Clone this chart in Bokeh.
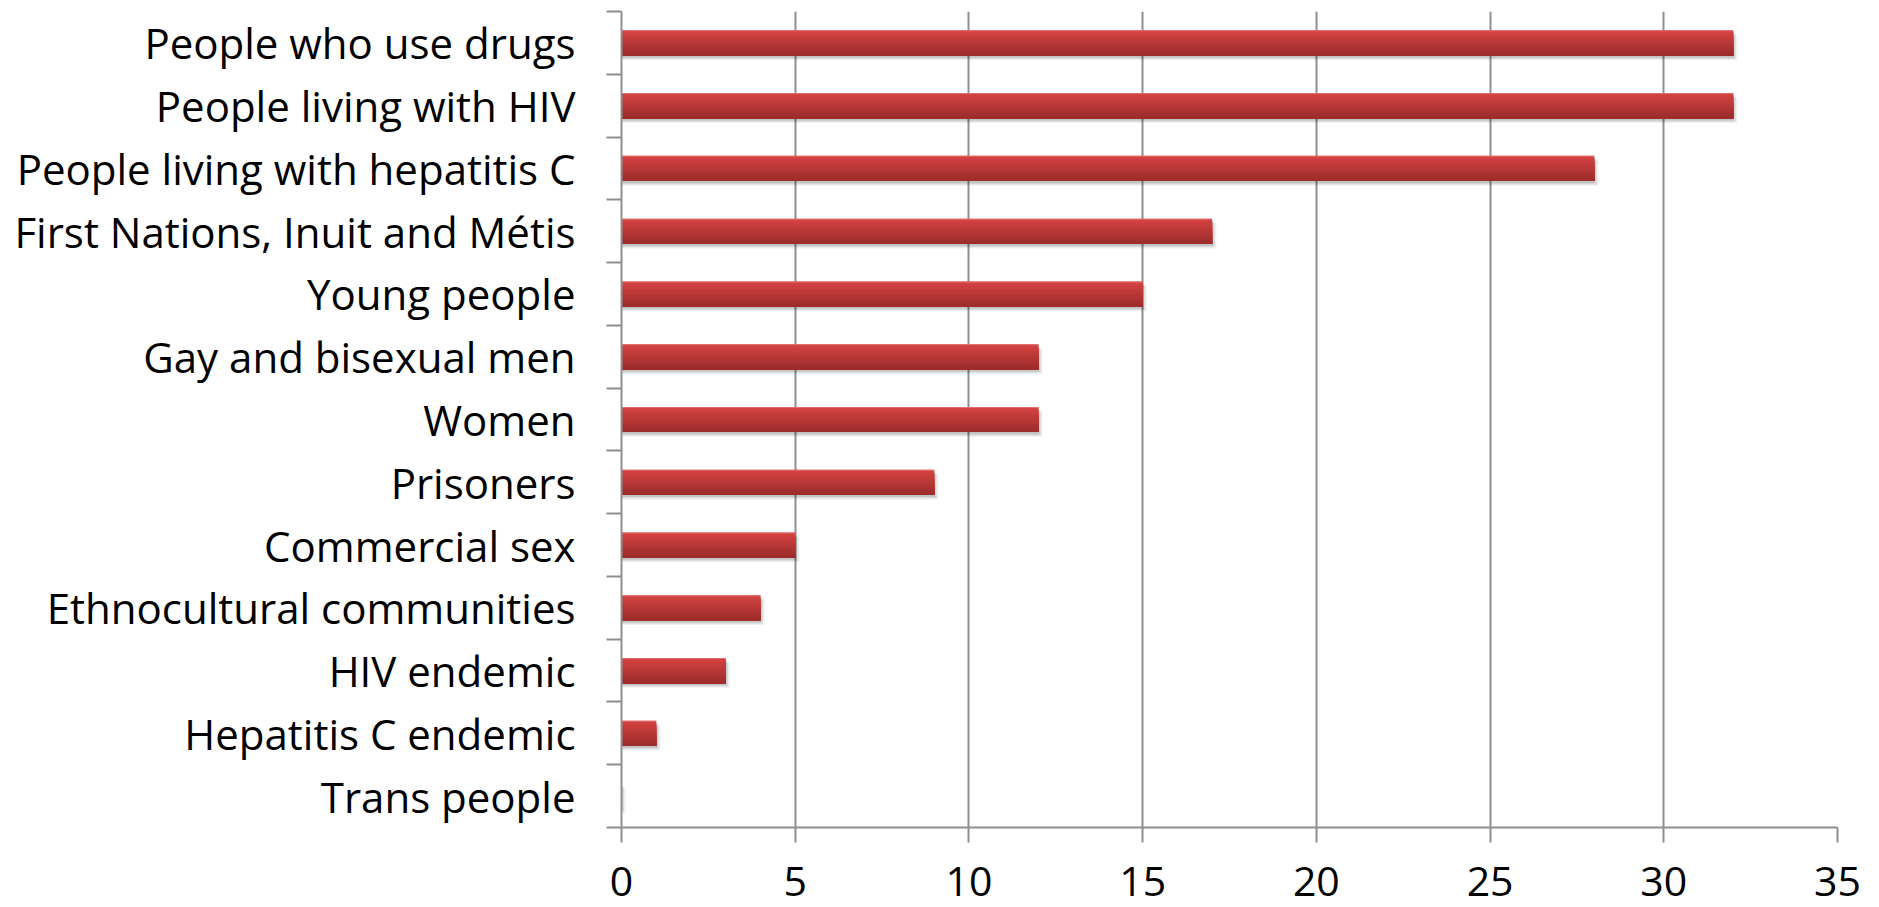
from bokeh.plotting import figure
from bokeh.models import Range1d, FixedTicker
from bokeh.embed import file_html
from bokeh.resources import INLINE

# Categories listed from top to bottom, with their counts
categories = [
    "People who use drugs",
    "People living with HIV",
    "People living with hepatitis C",
    "First Nations, Inuit and Métis",
    "Young people",
    "Gay and bisexual men",
    "Women",
    "Prisoners",
    "Commercial sex",
    "Ethnocultural communities",
    "HIV endemic",
    "Hepatitis C endemic",
    "Trans people",
]
counts = [32, 32, 28, 17, 15, 12, 12, 9, 5, 4, 3, 1, 0]
x_ticks = [0, 5, 10, 15, 20, 25, 30, 35]

n = len(categories)
# position 0 at the bottom row
positions = [n - 1 - i for i in range(n)]

FONT = "Open Sans"
GRID = "#8f8f8f"

p = figure(
    width=1879, height=907,
    x_range=Range1d(0, 35), y_range=Range1d(-0.5, n - 0.5),
    output_backend="svg", toolbar_location=None,
    min_border_left=621, min_border_right=42,
    min_border_top=11, min_border_bottom=80,
)
p.outline_line_color = None
p.background_fill_color = "white"
p.border_fill_color = "white"

bar_h = 0.4

# soft drop shadow under each bar
for dy, dx, a in [(0.075, 0.12, 0.06), (0.055, 0.07, 0.09), (0.035, 0.03, 0.10)]:
    p.hbar(y=[v - dy for v in positions], right=[c + dx for c in counts], left=0,
           height=bar_h, fill_color="black", fill_alpha=a, line_color=None)

# bars shaded from light red at the top to darker red at the bottom:
# each layer runs from its own top edge down to the bar's bottom edge
top_rgb = (213, 67, 66)
bot_rgb = (156, 44, 44)
slices = 16
for k in range(slices):
    t = k / (slices - 1)
    r = round(top_rgb[0] + (bot_rgb[0] - top_rgb[0]) * t)
    g = round(top_rgb[1] + (bot_rgb[1] - top_rgb[1]) * t)
    b = round(top_rgb[2] + (bot_rgb[2] - top_rgb[2]) * t)
    color = "#%02x%02x%02x" % (r, g, b)
    top = bar_h / 2 - bar_h * k / slices
    h = top + bar_h / 2
    p.hbar(y=[v + top - h / 2 for v in positions], right=counts, left=0,
           height=h, fill_color=color, line_color=None)

# light edge along the top of each bar
p.hbar(y=[v + bar_h / 2 - 0.008 for v in positions], right=counts, left=0,
       height=0.016, fill_color="#e06e6e", line_color=None)

# grid
p.xgrid.ticker = FixedTicker(ticks=x_ticks)
p.xgrid.grid_line_color = GRID
p.xgrid.grid_line_width = 2
p.ygrid.grid_line_color = None

# x axis
xa = p.xaxis[0]
xa.ticker = FixedTicker(ticks=x_ticks)
xa.axis_line_color = GRID
xa.axis_line_width = 2
xa.major_tick_line_color = GRID
xa.major_tick_line_width = 2
xa.major_tick_out = 15
xa.major_tick_in = 0
xa.minor_tick_line_color = None
xa.major_label_text_font = FONT
xa.major_label_text_font_size = "41px"
xa.major_label_text_color = "black"
xa.major_label_standoff = 24

# y axis: labels at row centres, tick marks at row boundaries
ya = p.yaxis[0]
ya.ticker = FixedTicker(ticks=positions,
                        minor_ticks=[v - 0.5 for v in range(n + 1)])
ya.major_label_overrides = {pos: cat for pos, cat in zip(positions, categories)}
ya.axis_line_color = GRID
ya.axis_line_width = 2
ya.major_tick_line_color = None
ya.major_tick_out = 0
ya.major_tick_in = 0
ya.minor_tick_line_color = GRID
ya.minor_tick_line_width = 2
ya.minor_tick_out = 15
ya.minor_tick_in = 0
ya.major_label_text_font = FONT
ya.major_label_text_font_size = "42px"
ya.major_label_text_color = "black"
ya.major_label_standoff = 31

open("out.html", "w").write(file_html(p, INLINE))
